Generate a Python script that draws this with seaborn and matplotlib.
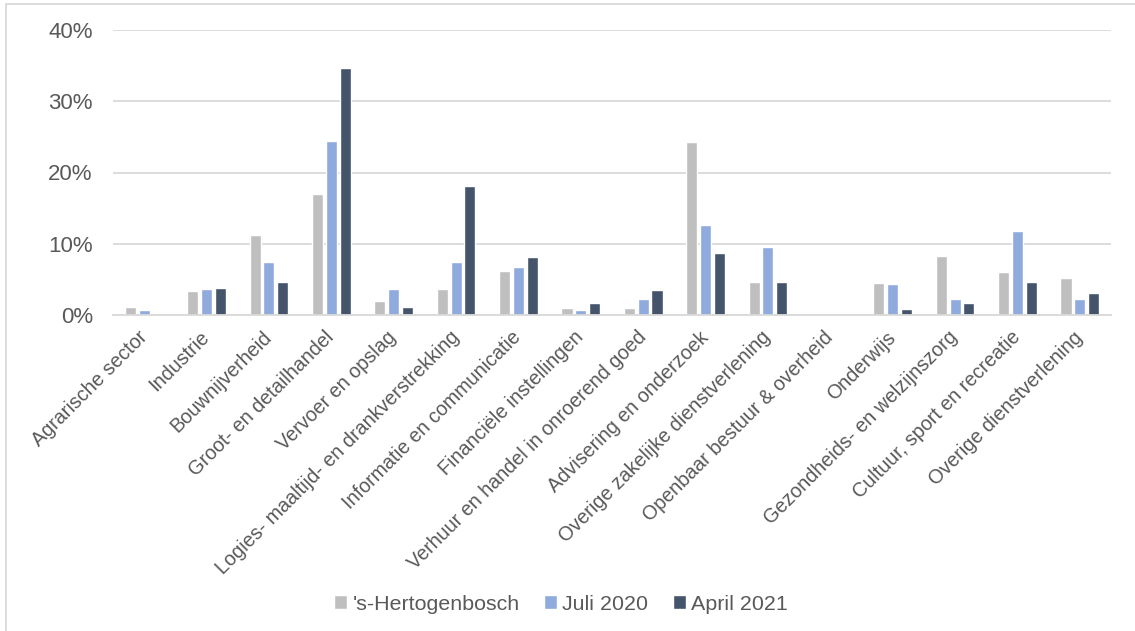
import matplotlib
matplotlib.use("Agg")
import matplotlib.pyplot as plt
import matplotlib.patches as mpatches
from matplotlib.ticker import PercentFormatter
import seaborn as sns
import pandas as pd

categories = [
    "Agrarische sector", "Industrie", "Bouwnijverheid", "Groot- en detailhandel",
    "Vervoer en opslag", "Logies- maaltijd- en drankverstrekking",
    "Informatie en communicatie", "Financiële instellingen",
    "Verhuur en handel in onroerend goed", "Advisering en onderzoek",
    "Overige zakelijke dienstverlening", "Openbaar bestuur & overheid",
    "Onderwijs", "Gezondheids- en welzijnszorg", "Cultuur, sport en recreatie",
    "Overige dienstverlening",
]
series_names = ["'s-Hertogenbosch", "Juli 2020", "April 2021"]
hertogenbosch = [1.1, 3.3, 11.2, 17.0, 1.9, 3.7, 6.2, 1.0, 1.0, 24.3, 4.7, 0.0, 4.5, 8.3, 6.0, 5.2]
juli_2020     = [0.7, 3.7, 7.4, 24.4, 3.7, 7.4, 6.7, 0.7, 2.2, 12.6, 9.6, 0.0, 4.4, 2.2, 11.8, 2.2]
april_2021    = [0.0, 3.8, 4.6, 34.7, 1.1, 18.1, 8.1, 1.7, 3.5, 8.7, 4.6, 0.0, 0.8, 1.7, 4.6, 3.1]
colors = ["#BFBFBF", "#8FAADC", "#44546A"]

rows = []
for name, vals in zip(series_names, [hertogenbosch, juli_2020, april_2021]):
    for c, v in zip(categories, vals):
        rows.append({"Sector": c, "Reeks": name, "Aandeel": v / 100.0})
df = pd.DataFrame(rows)

sns.set_theme(style="white")
plt.rcParams["font.family"] = ["Liberation Sans", "DejaVu Sans"]
text_color = "#595959"
grid_color = "#D9D9D9"

fig = plt.figure(figsize=(11.35, 6.31), dpi=100)
ax = fig.add_axes([113 / 1135, 1 - 315 / 631, 998 / 1135, 285 / 631])

sns.barplot(data=df, x="Sector", y="Aandeel", hue="Reeks", order=categories,
            hue_order=series_names, palette=colors, width=0.665, gap=0.2,
            saturation=1, ax=ax, legend=True)

ax.set_ylim(0, 0.4)
ax.set_xlim(-0.5, len(categories) - 0.5)
ax.yaxis.set_major_formatter(PercentFormatter(1.0, decimals=0))
ax.set_yticks([0, 0.1, 0.2, 0.3, 0.4])
ax.grid(axis="y", color=grid_color, linewidth=1.3)
ax.set_axisbelow(True)
for s in ["top", "right", "left"]:
    ax.spines[s].set_visible(False)
ax.spines["bottom"].set_color(grid_color)
ax.spines["bottom"].set_linewidth(1.3)
ax.set_xlabel("")
ax.set_ylabel("")
ax.tick_params(axis="y", length=0, pad=14.5, labelsize=16, labelcolor=text_color)
ax.tick_params(axis="x", length=0, pad=14, labelsize=14.2, labelcolor=text_color)
ax.set_xticks(range(len(categories)))
ax.set_xticklabels(categories, rotation=45, ha="right", va="center",
                   rotation_mode="anchor")

handles, labels = ax.get_legend_handles_labels()
ax.legend_.remove()
fig.legend(handles, labels, loc="center", bbox_to_anchor=(561 / 1135, 1 - 604 / 631),
           ncol=3, frameon=False, fontsize=15.4, labelcolor=text_color,
           handlelength=0.6, handleheight=0.6, handletextpad=0.25, columnspacing=1.15)

frame = mpatches.Rectangle((6 / 1135, -0.1), 1.2, 1 - 4 / 631 + 0.1,
                           transform=fig.transFigure, fill=False,
                           edgecolor=grid_color, linewidth=1.3, zorder=-1)
fig.patches.append(frame)

fig.savefig("out.png", dpi=100)
